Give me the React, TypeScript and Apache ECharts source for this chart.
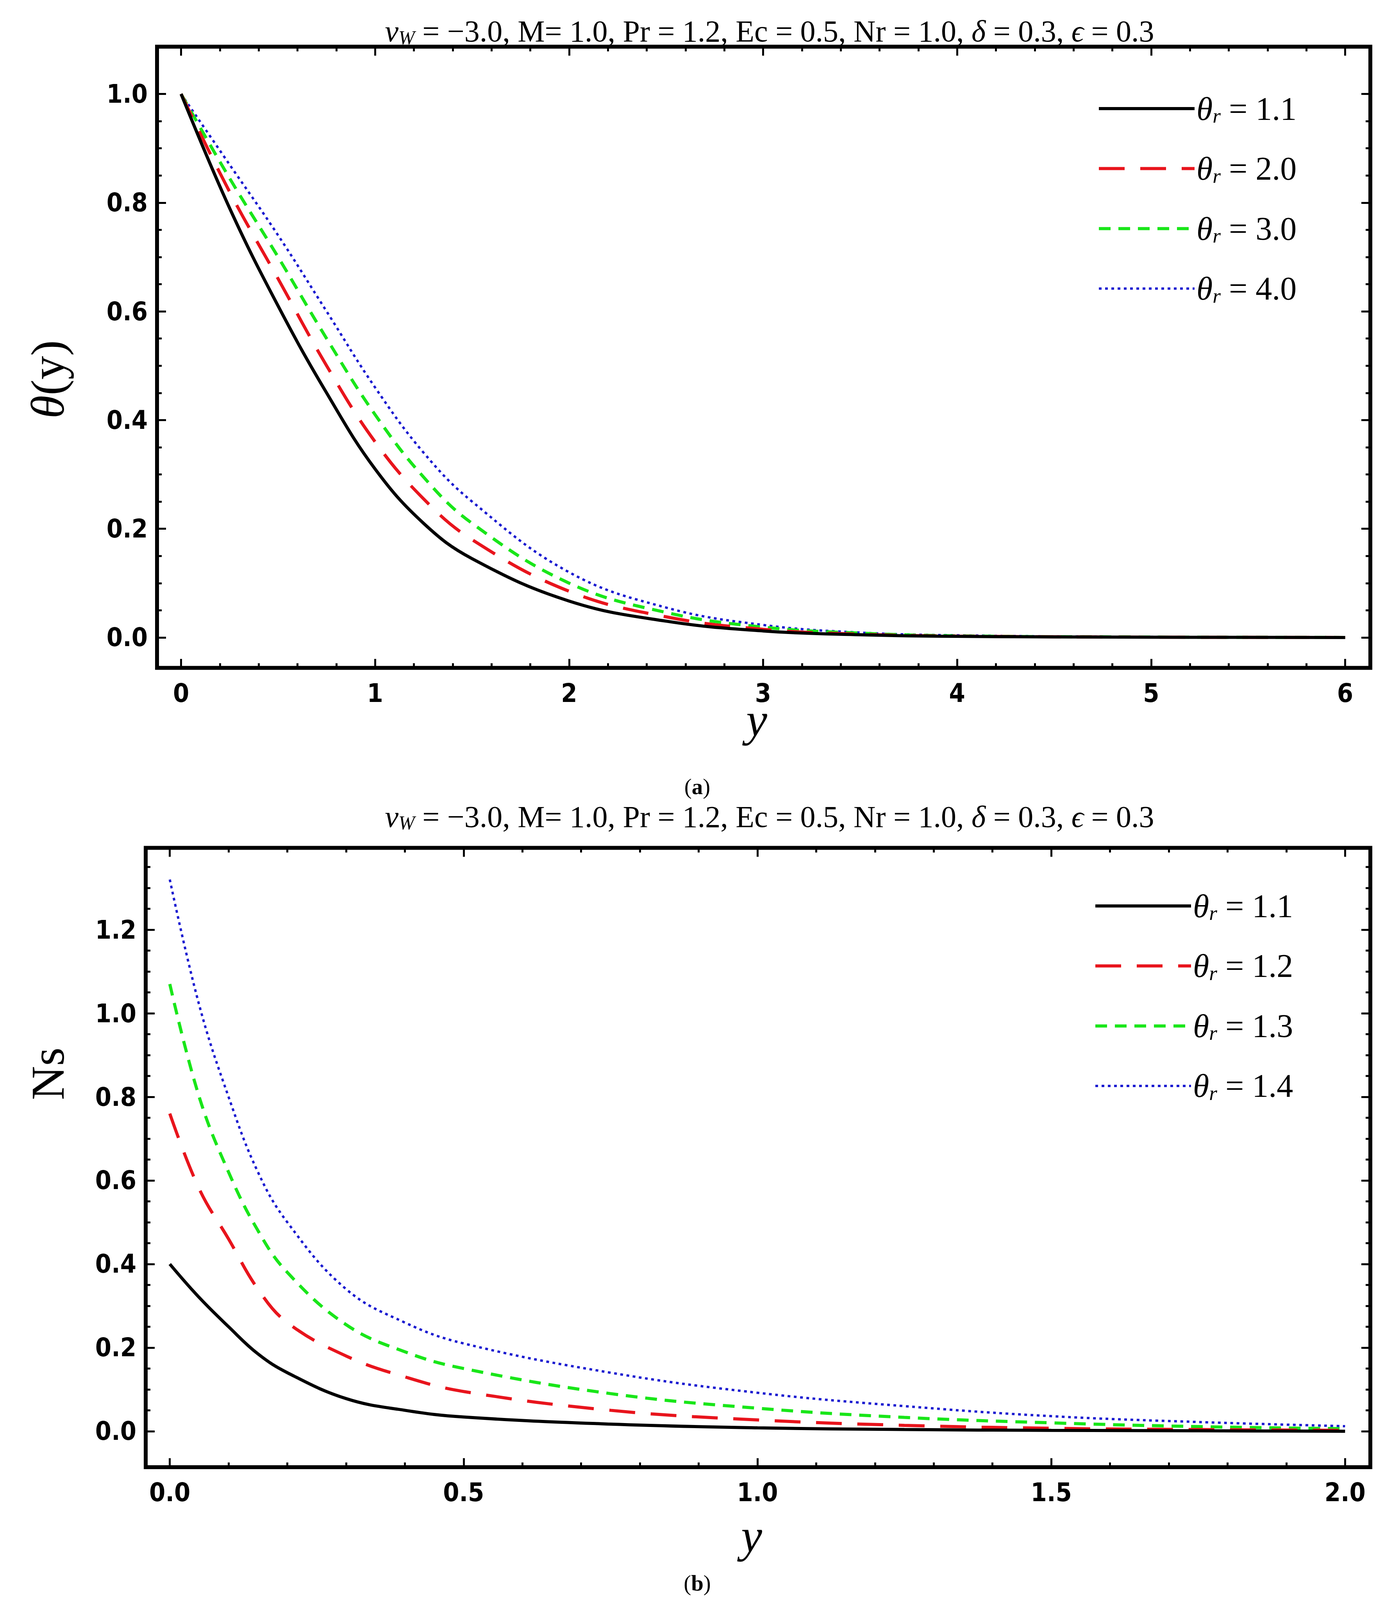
import { useEffect, useRef } from "react";
import * as echarts from "echarts";

// panel (a): theta(y)
const xA = [0, 0.25, 0.5, 0.75, 1, 1.25, 1.5, 2, 2.5, 3, 3.5, 4, 5, 6];
const thetaA = [
  [1, 0.79, 0.61, 0.45, 0.31, 0.21, 0.145, 0.067, 0.03, 0.012, 0.005, 0.002, 0.0005, 0],
  [1, 0.82, 0.66, 0.5, 0.36, 0.255, 0.18, 0.085, 0.038, 0.015, 0.006, 0.0025, 0.0006, 0],
  [1, 0.845, 0.7, 0.55, 0.41, 0.295, 0.21, 0.1, 0.046, 0.019, 0.008, 0.003, 0.0008, 0],
  [1, 0.87, 0.74, 0.6, 0.46, 0.34, 0.25, 0.12, 0.055, 0.023, 0.009, 0.004, 0.001, 0],
];
const namesA = ["1.1", "2.0", "3.0", "4.0"];

// panel (b): Ns
const xB = [0, 0.05, 0.1, 0.15, 0.2, 0.3, 0.4, 0.5, 0.75, 1, 1.25, 1.5, 1.75, 2];
const nsB = [
  [0.4, 0.32, 0.25, 0.185, 0.14, 0.078, 0.05, 0.034, 0.017, 0.008, 0.004, 0.002, 0.001, 0],
  [0.76, 0.58, 0.46, 0.34, 0.26, 0.18, 0.13, 0.095, 0.05, 0.027, 0.014, 0.007, 0.004, 0.002],
  [1.07, 0.8, 0.62, 0.48, 0.38, 0.255, 0.19, 0.15, 0.09, 0.055, 0.033, 0.02, 0.011, 0.006],
  [1.32, 1.02, 0.8, 0.62, 0.5, 0.34, 0.26, 0.21, 0.14, 0.092, 0.06, 0.036, 0.022, 0.012],
];
const namesB = ["1.1", "1.2", "1.3", "1.4"];

const xTicksA = [0, 1, 2, 3, 4, 5, 6];
const yTicksA = [0, 0.2, 0.4, 0.6, 0.8, 1.0];
const xTicksB = [0, 0.5, 1.0, 1.5, 2.0];
const yTicksB = [0, 0.2, 0.4, 0.6, 0.8, 1.0, 1.2];

const COLORS = ["#000000", "#e8141c", "#19e619", "#1a1ad0"];
const DASHES: any[] = ["solid", [66, 40], [30, 20], [7, 9]];
const WIDTHS = [10, 10, 10, 7];

const range = (a: number, b: number, s: number) => {
  const out: number[] = [];
  for (let v = a; v <= b + 1e-9; v += s) out.push(+v.toFixed(4));
  return out;
};

const LABEL_FONT = "'Liberation Sans Narrow', 'DejaVu Sans Condensed', sans-serif";
const SERIF = "'Liberation Serif', 'DejaVu Serif', serif";

export default function App() {
  const ref = useRef<HTMLDivElement>(null);

  useEffect(() => {
    if (!ref.current) return;
    const el = ref.current;
    const sx = el.clientWidth / 3550;
    const sy = el.clientHeight / 5049;
    const s = Math.min(sx, sy);
    const X = (v: number) => v * sx;
    const Y = (v: number) => v * sy;
    const F = (v: number) => Math.round(v * s);

    const chart = echarts.init(el, null, { renderer: "svg" });

    const axes = (
      dim: "x" | "y",
      gridIndex: number,
      min: number,
      max: number,
      major: number[],
      minor: number[],
      dec: number
    ) => {
      const base = {
        type: "value",
        gridIndex,
        min,
        max,
        splitLine: { show: false },
        axisLine: { show: false, onZero: false },
      };
      const tick = (vals: number[], len: number) => ({
        show: true,
        inside: true,
        length: F(len),
        customValues: vals,
        lineStyle: { color: "#000", width: F(6) },
      });
      const pos = dim === "x" ? ["bottom", "top"] : ["left", "right"];
      const list: any[] = [];
      pos.forEach((p, i) => {
        list.push({
          ...base,
          position: p,
          axisTick: tick(major, 28),
          axisLabel: {
            show: i === 0,
            customValues: major,
            formatter: (v: number) => v.toFixed(dec),
            fontFamily: LABEL_FONT,
            fontWeight: "bold",
            fontSize: F(82),
            color: "#000",
            margin: F(dim === "x" ? 40 : 30),
          },
        });
        list.push({ ...base, position: p, axisTick: tick(minor, 15), axisLabel: { show: false } });
      });
      return list;
    };

    const legendRich = {
      t: { fontFamily: SERIF, fontStyle: "italic", fontSize: F(104), color: "#000" },
      s: { fontFamily: SERIF, fontStyle: "italic", fontSize: F(66), color: "#000", padding: [F(44), 0, 0, 0] },
      n: { fontFamily: SERIF, fontSize: F(104), color: "#000" },
    };
    const titleRich = {
      v: { fontFamily: SERIF, fontStyle: "italic", fontSize: F(96), color: "#000" },
      w: { fontFamily: SERIF, fontStyle: "italic", fontSize: F(62), color: "#000", padding: [F(40), 0, 0, 0] },
      n: { fontFamily: SERIF, fontSize: F(96), color: "#000" },
      i: { fontFamily: SERIF, fontStyle: "italic", fontSize: F(96), color: "#000" },
    };
    const titleText =
      "{v|v}{w|W}{n| = −3.0, M= 1.0, Pr = 1.2, Ec = 0.5, Nr = 1.0, }{i|δ}{n| = 0.3, }{i|ϵ}{n| = 0.3}";

    const xAxes = [
      ...axes("x", 0, -0.124, 6.13, xTicksA, range(0, 6, 0.2), 0),
      ...axes("x", 1, -0.041, 2.043, xTicksB, range(0, 2, 0.1), 1),
    ];
    const yAxes = [
      ...axes("y", 0, -0.056, 1.087, yTicksA, range(0, 1, 0.05), 1),
      ...axes("y", 1, -0.086, 1.396, yTicksB, range(0, 1.35, 0.05), 1),
    ];

    const mk = (xs: number[], sets: number[][], names: string[], idx: number) =>
      sets.map((ys, i) => ({
        name: `θr = ${names[i]}`,
        type: "line",
        xAxisIndex: idx * 4,
        yAxisIndex: idx * 4,
        smooth: 0.4,
        showSymbol: false,
        symbol: "none",
        data: xs.map((x, j) => [x, ys[j]]),
        lineStyle: { color: COLORS[i], width: F(WIDTHS[i]), type: DASHES[i] },
        itemStyle: { color: COLORS[i] },
        z: 10 - i,
      }));

    const seriesA = mk(xA, thetaA, namesA, 0);
    const seriesB = mk(xB, nsB, namesB, 1);

    const legendData = (series: any[]) =>
      series.map((sr, i) => ({
        name: sr.name,
        itemStyle: { opacity: 0 },
        lineStyle: { color: COLORS[i], width: F(WIDTHS[i]), type: DASHES[i], opacity: 1 },
      }));

    const legendBase = {
      orient: "vertical",
      itemWidth: X(245),
      itemHeight: Y(60),
      itemGap: Y(83),
      formatter: (name: string) => `{t|θ}{s|r}{n| = ${name.split("=")[1].trim()}}`,
      textStyle: { rich: legendRich },
      selectedMode: false,
    };

    const txt = (x: number, y: number, style: any, extra: any = {}) => ({
      type: "text",
      x: X(x),
      y: Y(y),
      ...extra,
      style: { align: "center", verticalAlign: "middle", ...style },
    });
    const capRich = {
      n: { fontFamily: SERIF, fontSize: F(70), color: "#000" },
      b: { fontFamily: SERIF, fontSize: F(70), fontWeight: "bold", color: "#000" },
    };

    chart.setOption({
      animation: false,
      backgroundColor: "#fff",
      grid: [
        { left: X(394), right: X(50), top: Y(138), height: Y(1968), show: true, borderColor: "#000", borderWidth: F(12) },
        { left: X(365), right: X(50), top: Y(2676), height: Y(1962), show: true, borderColor: "#000", borderWidth: F(12) },
      ],
      xAxis: xAxes,
      yAxis: yAxes,
      legend: [
        { ...legendBase, left: X(2796), top: Y(276), data: legendData(seriesA) },
        { ...legendBase, left: X(2787), top: Y(2802), data: legendData(seriesB) },
      ],
      series: [...seriesA, ...seriesB],
      graphic: [
        txt(1962, 89, { text: titleText, rich: titleRich }),
        txt(1962, 2577, { text: titleText, rich: titleRich }),
        txt(
          114,
          1192,
          {
            text: "{i|θ}{n|(y)}",
            rich: {
              i: { fontFamily: SERIF, fontStyle: "italic", fontSize: F(150), color: "#000" },
              n: { fontFamily: SERIF, fontSize: F(150), color: "#000" },
            },
          },
          { rotation: Math.PI / 2 }
        ),
        txt(114, 3392, { text: "Ns", font: `${F(150)}px ${SERIF}`, fill: "#000" }, { rotation: Math.PI / 2 }),
        txt(1929, 2270, { text: "y", font: `italic ${F(150)}px ${SERIF}`, fill: "#000" }),
        txt(1916, 4855, { text: "y", font: `italic ${F(150)}px ${SERIF}`, fill: "#000" }),
        txt(1777, 2482, { text: "{n|(}{b|a}{n|)}", rich: capRich }),
        txt(1777, 5005, { text: "{n|(}{b|b}{n|)}", rich: capRich }),
      ],
    });

    return () => chart.dispose();
  }, []);

  return <div ref={ref} style={{ width: "calc(100vw - 16px)", height: "calc(100vh - 16px)" }} />;
}
